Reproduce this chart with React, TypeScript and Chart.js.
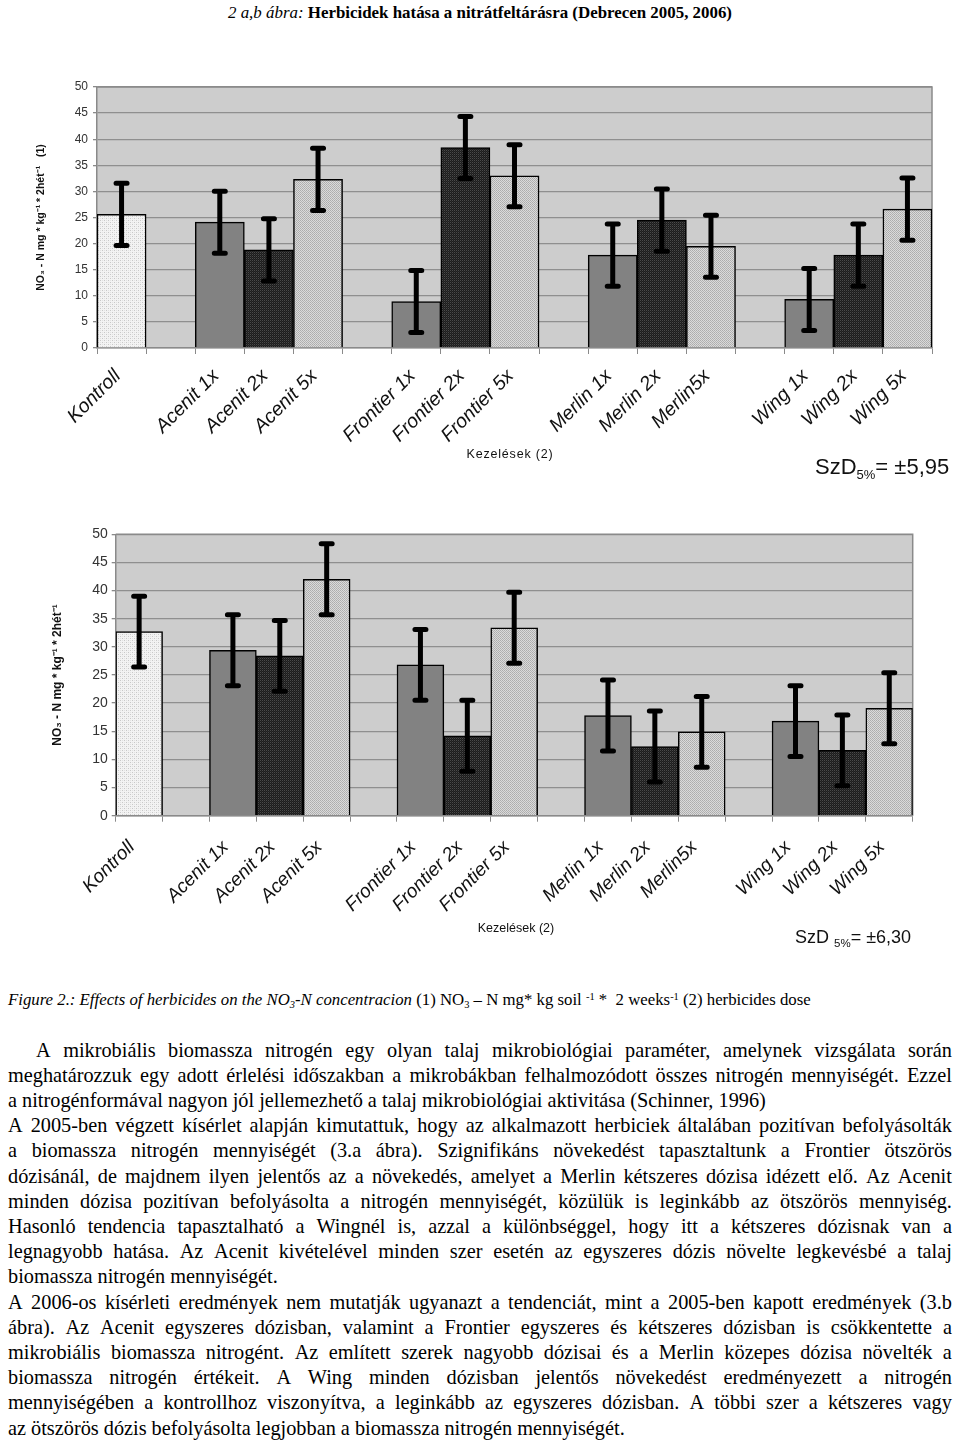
import React, { useEffect, useRef } from 'react';
import { Chart, registerables } from 'chart.js';

Chart.register(...registerables);

// ---------- DATA ----------
const categories = [
  'Kontroll', '',
  'Acenit 1x', 'Acenit 2x', 'Acenit 5x', '',
  'Frontier 1x', 'Frontier 2x', 'Frontier 5x', '',
  'Merlin 1x', 'Merlin 2x', 'Merlin5x', '',
  'Wing 1x', 'Wing 2x', 'Wing 5x',
];

const values2005 = [25.6, null, 24.1, 18.8, 32.3, null, 8.9, 38.4, 33.0, null, 17.8, 24.5, 19.5, null, 9.3, 17.8, 26.6];
const errors2005 = [5.95, null, 5.95, 5.95, 5.95, null, 5.95, 5.95, 5.95, null, 5.95, 5.95, 5.95, null, 5.95, 5.95, 5.95];

const values2006 = [32.7, null, 29.4, 28.4, 42.0, null, 26.8, 14.2, 33.4, null, 17.8, 12.3, 14.9, null, 16.8, 11.6, 19.1];
const errors2006 = [6.3, null, 6.3, 6.3, 6.3, null, 6.3, 6.3, 6.3, null, 6.3, 6.3, 6.3, null, 6.3, 6.3, 6.3];

const yMin = 0;
const yMax = 50;
const yStep = 5;

const yTitle2005 = 'NO₃ - N mg * kg⁻¹ * 2hét⁻¹   (1)';
const yTitle2006 = 'NO₃ - N mg * kg⁻¹ * 2hét⁻¹';
const xTitle = 'Kezelések (2)';
const szd2005 = '±5,95';
const szd2006 = '±6,30';

const paragraphLines: [string, boolean][] = [
  ['A mikrobiális biomassza nitrogén egy olyan talaj mikrobiológiai paraméter, amelynek vizsgálata során', true],
  ['meghatározzuk egy adott érlelési időszakban a mikrobákban felhalmozódott összes nitrogén mennyiségét. Ezzel', true],
  ['a nitrogénformával nagyon jól jellemezhető a talaj mikrobiológiai aktivitása (Schinner, 1996)', false],
  ['A 2005-ben végzett kísérlet alapján kimutattuk, hogy az alkalmazott herbiciek általában pozitívan befolyásolták', true],
  ['a biomassza nitrogén mennyiségét (3.a ábra). Szignifikáns növekedést tapasztaltunk a Frontier ötszörös', true],
  ['dózisánál, de majdnem ilyen jelentős az a növekedés, amelyet a Merlin kétszeres dózisa idézett elő. Az Acenit', true],
  ['minden dózisa pozitívan befolyásolta a nitrogén mennyiségét, közülük is leginkább az ötszörös mennyiség.', true],
  ['Hasonló tendencia tapasztalható a Wingnél is, azzal a különbséggel, hogy itt a kétszeres dózisnak van a', true],
  ['legnagyobb hatása. Az Acenit kivételével minden szer esetén az egyszeres dózis növelte legkevésbé a talaj', true],
  ['biomassza nitrogén mennyiségét.', false],
  ['A 2006-os kísérleti eredmények nem mutatják ugyanazt a tendenciát, mint a 2005-ben kapott eredmények (3.b', true],
  ['ábra). Az Acenit egyszeres dózisban, valamint a Frontier egyszeres és kétszeres dózisban is csökkentette a', true],
  ['mikrobiális biomassza nitrogént. Az említett szerek nagyobb dózisai és a Merlin közepes dózisa növelték a', true],
  ['biomassza nitrogén értékeit. A Wing minden dózisban jelentős növekedést eredményezett a nitrogén', true],
  ['mennyiségében a kontrollhoz viszonyítva, a leginkább az egyszeres dózisban. A többi szer a kétszeres vagy', true],
  ['az ötszörös dózis befolyásolta legjobban a biomassza nitrogén mennyiségét.', false],
];

// ---------- STYLE HELPERS ----------
const SANS = "'Liberation Sans', Arial, sans-serif";
const SERIF = "'Liberation Serif', 'Times New Roman', serif";

function doseOf(label: string): string {
  if (label === 'Kontroll') return 'k';
  if (label.endsWith('1x')) return '1';
  if (label.endsWith('2x')) return '2';
  if (label.endsWith('5x')) return '5';
  return '';
}

function makePatterns(): Record<string, CanvasPattern | string> {
  const mk = (size: number, base: string, dots: [number, number, string][]) => {
    const c = document.createElement('canvas');
    c.width = size;
    c.height = size;
    const x = c.getContext('2d')!;
    x.fillStyle = base;
    x.fillRect(0, 0, size, size);
    dots.forEach(([a, b, col]) => {
      x.fillStyle = col;
      x.fillRect(a, b, 1, 1);
    });
    return x.createPattern(c, 'repeat')!;
  };
  return {
    k: mk(4, '#f3f3f3', [[0, 0, '#c8c8c8'], [2, 2, '#c8c8c8'], [2, 0, '#e2e2e2'], [0, 2, '#e2e2e2']]),
    '1': '#828282',
    '2': mk(2, '#1c1c1c', [[0, 0, '#4a4a4a'], [1, 1, '#2c2c2c']]),
    '5': mk(2, '#dadada', [[0, 0, '#acacac'], [1, 1, '#b4b4b4']]),
  };
}

const plotBgPlugin = {
  id: 'plotBg',
  beforeDraw(chart: any) {
    const { ctx, chartArea } = chart;
    ctx.save();
    ctx.fillStyle = '#cdcdcd';
    ctx.fillRect(chartArea.left, chartArea.top, chartArea.right - chartArea.left, chartArea.bottom - chartArea.top);
    ctx.restore();
  },
  beforeDatasetsDraw(chart: any) {
    const { ctx, chartArea } = chart;
    ctx.save();
    ctx.strokeStyle = '#8a8a8a';
    ctx.lineWidth = 1.5;
    ctx.beginPath();
    ctx.moveTo(chartArea.left, chartArea.top);
    ctx.lineTo(chartArea.right, chartArea.top);
    ctx.lineTo(chartArea.right, chartArea.bottom);
    ctx.stroke();
    ctx.restore();
  },
};

const errorBarPlugin = {
  id: 'errorBars',
  afterDatasetsDraw(chart: any, _args: any, opts: any) {
    const { ctx } = chart;
    const meta = chart.getDatasetMeta(0);
    const yScale = chart.scales.y;
    const data = chart.data.datasets[0].data;
    const errs: (number | null)[] = opts.errors || [];
    ctx.save();
    ctx.strokeStyle = '#000';
    meta.data.forEach((bar: any, i: number) => {
      const v = data[i];
      const e = errs[i];
      if (v == null || e == null) return;
      const x = bar.x;
      const yt = yScale.getPixelForValue(v + e);
      const yb = yScale.getPixelForValue(v - e);
      ctx.lineWidth = 5;
      ctx.lineCap = 'butt';
      ctx.beginPath();
      ctx.moveTo(x, yt);
      ctx.lineTo(x, yb);
      ctx.stroke();
      ctx.lineCap = 'round';
      ctx.lineWidth = 5;
      ctx.beginPath();
      ctx.moveTo(x - 5.5, yt);
      ctx.lineTo(x + 5.5, yt);
      ctx.moveTo(x - 5.5, yb);
      ctx.lineTo(x + 5.5, yb);
      ctx.stroke();
    });
    ctx.restore();
  },
};

type Cfg = {
  values: (number | null)[];
  errors: (number | null)[];
  yTitle: string;
  yTitleSize: number;
  yTitlePad: number;
  tickSize: number;
  tickPad: number;
  yWidth: number;
  xHeight: number;
  padTop: number;
  padRight: number;
  xTickPad: number;
  xFont: number;
  labelTail: string;
};

function buildConfig(c: Cfg, pats: Record<string, CanvasPattern | string>): any {
  return {
    type: 'bar',
    data: {
      labels: categories,
      datasets: [
        {
          data: c.values,
          backgroundColor: categories.map((l) => pats[doseOf(l)] || 'transparent'),
          borderColor: '#000',
          borderWidth: 1.5,
          categoryPercentage: 1,
          barPercentage: 1,
        },
      ],
    },
    options: {
      responsive: false,
      animation: false,
      devicePixelRatio: 1,
      layout: { padding: { top: c.padTop, right: c.padRight, left: 0, bottom: 0 } },
      plugins: {
        legend: { display: false },
        tooltip: { enabled: false },
        errorBars: { errors: c.errors },
      },
      scales: {
        x: {
          offset: true,
          grid: { drawOnChartArea: false, drawTicks: true, tickLength: 6, color: '#8a8a8a', offset: true, lineWidth: 1 },
          border: { display: true, color: '#8a8a8a', width: 1.5 },
          ticks: {
            autoSkip: false,
            maxRotation: 45,
            minRotation: 45,
            padding: c.xTickPad,
            color: '#111',
            font: { family: SANS, size: c.xFont, style: 'italic' },
            callback: (_v: any, i: number) => (categories[i] ? categories[i] + c.labelTail : ''),
          },
          afterFit: (s: any) => {
            s.height = c.xHeight;
          },
        },
        y: {
          min: yMin,
          max: yMax,
          ticks: {
            stepSize: yStep,
            padding: c.tickPad,
            color: '#333',
            font: { family: SANS, size: c.tickSize },
          },
          grid: { color: '#8f8f8f', lineWidth: 1.3, tickLength: 4, tickColor: '#8a8a8a' },
          border: { display: true, color: '#8a8a8a', width: 1.5 },
          title: {
            display: true,
            text: c.yTitle,
            color: '#111',
            padding: { top: c.yTitlePad, bottom: 0 },
            font: { family: SANS, size: c.yTitleSize, weight: 'bold' },
          },
          afterFit: (s: any) => {
            s.width = c.yWidth;
          },
        },
      },
    },
    plugins: [plotBgPlugin, errorBarPlugin],
  };
}

function JLine({ text, top, indent, justify }: { text: string; top: number; indent: number; justify: boolean }) {
  const base: React.CSSProperties = {
    position: 'absolute',
    left: 8 + indent,
    width: 944 - indent,
    top,
    height: 25,
    lineHeight: '25px',
    whiteSpace: 'nowrap',
    fontFamily: SERIF,
    fontSize: 20.3,
    color: '#000',
  };
  if (!justify) return <div style={base}>{text}</div>;
  return (
    <div style={{ ...base, display: 'flex', justifyContent: 'space-between' }}>
      {text.split(' ').map((w, i) => (
        <span key={i}>{w}</span>
      ))}
    </div>
  );
}

const subStyle: React.CSSProperties = { fontSize: '0.62em', position: 'relative', top: '0.3em' };
const supStyle: React.CSSProperties = { fontSize: '0.62em', position: 'relative', top: '-0.45em' };

export default function App() {
  const c1 = useRef<HTMLCanvasElement>(null);
  const c2 = useRef<HTMLCanvasElement>(null);

  useEffect(() => {
    const pats = makePatterns();
    const ch1 = new Chart(
      c1.current!,
      buildConfig(
        {
          values: values2005,
          errors: errors2005,
          yTitle: yTitle2005,
          yTitleSize: 10.5,
          yTitlePad: 35,
          tickSize: 12,
          tickPad: 5,
          yWidth: 97,
          xHeight: 132,
          padTop: 47,
          padRight: 28,
          xTickPad: 7,
          xFont: 19.5,
          labelTail: ' ',
        },
        pats
      )
    );
    const ch2 = new Chart(
      c2.current!,
      buildConfig(
        {
          values: values2006,
          errors: errors2006,
          yTitle: yTitle2006,
          yTitleSize: 12,
          yTitlePad: 50,
          tickSize: 14,
          tickPad: 4,
          yWidth: 115.7,
          xHeight: 144.3,
          padTop: 34.3,
          padRight: 47.3,
          xTickPad: 7,
          xFont: 19,
          labelTail: '  ',
        },
        pats
      )
    );
    return () => {
      ch1.destroy();
      ch2.destroy();
    };
  }, []);

  return (
    <div style={{ position: 'absolute', left: 0, top: 0, width: 960, height: 1440, background: '#fff', overflow: 'hidden' }}>
      <div
        style={{
          position: 'absolute',
          left: 0,
          top: 4,
          width: 960,
          textAlign: 'center',
          fontFamily: SERIF,
          fontSize: 16.9,
          lineHeight: '18px',
          whiteSpace: 'nowrap',
        }}
      >
        <i>2 a,b ábra:</i> <b>Herbicidek hatása a nitrátfeltárásra (Debrecen 2005, 2006)</b>
      </div>

      <canvas ref={c1} width={960} height={440} style={{ position: 'absolute', left: 0, top: 40, width: 960, height: 440 }} />
      <canvas ref={c2} width={960} height={460} style={{ position: 'absolute', left: 0, top: 500, width: 960, height: 460 }} />

      <div
        style={{
          position: 'absolute',
          left: 410,
          width: 200,
          top: 447,
          textAlign: 'center',
          fontFamily: SANS,
          fontSize: 12.5,
          lineHeight: '14px',
          letterSpacing: 0.8,
          color: '#111',
        }}
      >
        {xTitle}
      </div>
      <div
        style={{ position: 'absolute', left: 815, top: 454, fontFamily: SANS, fontSize: 22, lineHeight: '26px', color: '#111', whiteSpace: 'nowrap' }}
      >
        SzD<span style={{ fontSize: 13, position: 'relative', top: 5 }}>5%</span>= {szd2005}
      </div>

      <div
        style={{
          position: 'absolute',
          left: 416,
          width: 200,
          top: 921,
          textAlign: 'center',
          fontFamily: SANS,
          fontSize: 12.5,
          lineHeight: '14px',
          color: '#111',
        }}
      >
        {xTitle}
      </div>
      <div
        style={{ position: 'absolute', left: 795, top: 926, fontFamily: SANS, fontSize: 18, lineHeight: '22px', color: '#111', whiteSpace: 'nowrap' }}
      >
        SzD <span style={{ fontSize: 11.5, position: 'relative', top: 4 }}>5%</span>= {szd2006}
      </div>

      <div
        style={{
          position: 'absolute',
          left: 8,
          top: 991,
          fontFamily: SERIF,
          fontSize: 16.8,
          lineHeight: '18px',
          whiteSpace: 'nowrap',
        }}
      >
        <i>
          Figure 2.: Effects of herbicides on the NO<span style={subStyle}>3</span>-N concentracion
        </i>{' '}
        (1) NO<span style={subStyle}>3</span> – N mg* kg soil <span style={supStyle}>-1</span> * &nbsp;2 weeks
        <span style={supStyle}>-1</span> (2) herbicides dose
      </div>

      {paragraphLines.map(([t, j], i) => (
        <JLine key={i} text={t} top={1037.5 + i * 25.2} indent={i === 0 ? 28 : 0} justify={j} />
      ))}
    </div>
  );
}
